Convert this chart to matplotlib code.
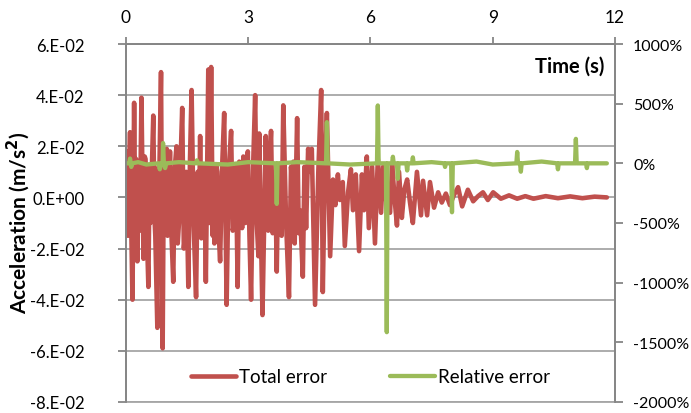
import numpy as np
import matplotlib.pyplot as plt
from matplotlib.ticker import FixedLocator, FuncFormatter

plt.rcParams['font.family'] = ['Lato', 'DejaVu Sans']

RED = '#C0504D'
GREEN = '#9BBB59'
GRID = '#A6A6A6'
AXC = '#868686'

# total error (m/s^2), peaks and troughs
tot_t = [0.00, 0.03, 0.05, 0.08, 0.10, 0.13, 0.16, 0.20, 0.23, 0.25, 0.28,
         0.30, 0.34, 0.38, 0.43, 0.46, 0.48, 0.52, 0.55, 0.58, 0.60, 0.64,
         0.67, 0.70, 0.72, 0.77, 0.80, 0.82, 0.86, 0.90, 0.93, 0.95, 1.00,
         1.02, 1.04, 1.08, 1.12, 1.16, 1.20, 1.24, 1.27, 1.30, 1.34, 1.38,
         1.42, 1.45, 1.48, 1.53, 1.57, 1.61, 1.66, 1.72, 1.76, 1.79, 1.82,
         1.85, 1.88, 1.92, 1.96, 2.02, 2.05, 2.09, 2.13, 2.15, 2.17, 2.21,
         2.24, 2.27, 2.31, 2.36, 2.41, 2.47, 2.52, 2.58, 2.62, 2.66, 2.70,
         2.74, 2.78, 2.81, 2.85, 2.88, 2.93, 2.96, 2.99, 3.03, 3.07, 3.12,
         3.17, 3.21, 3.25, 3.27, 3.31, 3.35, 3.43, 3.49, 3.52, 3.56, 3.60,
         3.63, 3.66, 3.70, 3.74, 3.78, 3.82, 3.86, 3.93, 4.00, 4.05, 4.08,
         4.11, 4.14, 4.20, 4.24, 4.27, 4.34, 4.38, 4.42, 4.47, 4.52, 4.56,
         4.64, 4.72, 4.79, 4.83, 4.88, 4.93, 5.01, 5.08, 5.14, 5.20, 5.25,
         5.32, 5.37, 5.45, 5.52, 5.57, 5.64, 5.72, 5.79, 5.84, 5.91, 5.96,
         6.04, 6.11, 6.18, 6.26, 6.31, 6.39, 6.48, 6.53, 6.60, 6.65, 6.70,
         6.77, 6.83, 6.90, 6.97, 7.04, 7.14, 7.24, 7.29, 7.39, 7.46, 7.56,
         7.66, 7.75, 7.85, 7.95, 8.05, 8.15, 8.25, 8.39, 8.52, 8.64, 8.76,
         8.88, 9.01, 9.20, 9.40, 9.60, 9.80, 10.00, 10.30, 10.60, 10.90,
         11.20, 11.50, 11.80]
tot_v = [-1.0, 1.8, -1.5, 1.2, 2.55, -1.2, -4.0, 3.7, -1.5, 1.5, -2.5,
         1.0, -1.3, 3.9, -2.4, 1.6, 1.5, -1.8, -3.5, 1.2, -1.0, 1.4,
         3.2, -0.8, -1.5, -5.1, 1.2, 1.0, 4.9, -5.9, 1.5, 0.5, 1.9,
         -1.5, -1.0, 1.8, -1.6, -3.3, 1.2, 2.0, -1.8, -1.0, 1.4, 3.5,
         -2.0, -1.5, 1.0, -3.5, 1.4, 4.2, -1.0, -3.9, 1.0, -1.2, 2.4,
         -1.6, -1.0, 1.3, -3.3, 5.0, -1.0, 5.1, -1.5, 1.2, -1.8, 1.3,
         1.0, -1.2, -2.5, 1.2, 3.3, -4.2, 1.0, 2.6, -1.3, -1.0, 1.2,
         -3.5, 1.4, 0.5, -1.2, 1.6, -1.0, 0.8, 1.8, -1.5, -4.0, 1.2,
         4.0, -1.0, -2.3, 2.5, -1.2, -4.6, 2.4, -1.3, 1.2, 2.6, -1.4,
         -0.5, 1.0, -2.9, 1.2, 1.0, -1.5, 3.6, -1.0, -3.9, 1.2, 0.5,
         1.4, -1.8, 3.1, -1.4, -0.5, -3.1, 1.2, -1.2, 1.9, 1.0, 1.9,
         -4.2, 1.0, 4.2, -3.7, 1.0, 3.3, -2.3, 0.7, -0.3, 0.9, -0.1,
         0.6, -1.9, 0.2, 1.1, -0.5, 0.9, -2.1, 0.9, -0.5, 1.6, -1.2,
         1.2, -1.8, 1.5, -0.6, 1.2, -0.2, -0.6, 1.3, -0.2, -1.1, 1.0,
         -0.8, 0.3, 0.7, -0.2, -1.0, 1.0, -0.7, 0.65, -0.7, 0.6, -0.4,
         0.2, -0.2, 0.15, -0.3, 0.1, 0.4, -0.35, 0.3, -0.15, 0.05, 0.2,
         -0.1, 0.2, -0.05, 0.08, -0.05, 0.05, -0.05, 0.05, -0.03, 0.04,
         -0.03, 0.03, 0.0]
tot_v = [v * 0.01 for v in tot_v]

# relative error (%)
rel_t = [0.00, 0.08, 0.10, 0.13, 0.15, 0.30, 0.50, 0.80, 0.83, 0.86, 0.90,
         0.91, 0.93, 0.96, 0.99, 1.30, 1.72, 1.74, 1.77, 2.50, 3.00, 3.68,
         3.70, 3.72, 4.20, 4.91, 4.93, 4.95, 5.50, 6.16, 6.18, 6.20, 6.38,
         6.40, 6.42, 6.53, 6.55, 6.57, 6.65, 6.67, 6.69, 6.88, 6.90, 6.92,
         7.02, 7.04, 7.06, 7.50, 7.81, 7.83, 7.85, 7.98, 8.00, 8.02, 8.60,
         9.00, 9.58, 9.60, 9.62, 9.67, 9.69, 9.71, 10.20, 10.58, 10.60,
         10.62, 11.02, 11.04, 11.06, 11.29, 11.31, 11.33, 11.80]
rel_v = [0, 0, 40, -30, 0, 10, -10, 0, -50, 0, 0,
         170, 0, -40, 0, 10, 0, 25, 0, -10, 10, 0,
         -340, 0, 10, 0, 345, 0, -10, 0, 485, 0, 0,
         -1415, 0, 0, 55, 0, 0, -130, 0, 0, -60, 0,
         0, 50, 0, 10, 0, -30, 0, 0, -410, 0, 15,
         -10, 0, 95, 0, 0, -70, 0, 15, 0, -50,
         0, 0, 205, 0, 0, -40, 0, 0]

left_ticks = [-0.08, -0.06, -0.04, -0.02, 0.0, 0.02, 0.04, 0.06]
left_labels = ['-8.E-02', '-6.E-02', '-4.E-02', '-2.E-02', '0.E+00',
               '2.E-02', '4.E-02', '6.E-02']
right_ticks = [-2000, -1500, -1000, -500, 0, 500, 1000]
x_ticks = [0, 3, 6, 9, 12]

fig = plt.figure(figsize=(6.91, 4.14), dpi=100)
ax = fig.add_axes([0.1823, 0.0266, 0.7077, 0.8647])
ax2 = ax.twinx()

ax.set_xlim(0, 12)
ax.set_ylim(-0.08, 0.06)
ax2.set_ylim(-2000, 1000)

ax.yaxis.grid(True, color=GRID, lw=1.3)
ax.set_axisbelow(True)

l1, = ax.plot(tot_t, tot_v, color=RED, lw=3.3, solid_joinstyle='round',
              solid_capstyle='round', label='Total error')
l2, = ax2.plot(rel_t, rel_v, color=GREEN, lw=3.1, solid_joinstyle='round',
               solid_capstyle='round', label='Relative error')

ax.yaxis.set_major_locator(FixedLocator(left_ticks))
ax.set_yticklabels(left_labels)
ax2.yaxis.set_major_locator(FixedLocator(right_ticks))
ax2.yaxis.set_major_formatter(FuncFormatter(lambda v, p: '%d%%' % v))
ax.xaxis.set_major_locator(FixedLocator(x_ticks))
ax.xaxis.tick_top()

for a in (ax, ax2):
    for s in a.spines.values():
        s.set_color(AXC)
        s.set_linewidth(1.3)
ax.spines['bottom'].set_color(GRID)
ax2.spines['bottom'].set_visible(False)
ax.tick_params(axis='y', colors=AXC, labelcolor='black', labelsize=12,
               length=6, width=1.3, pad=24)
ax.tick_params(axis='x', colors=AXC, labelcolor='black', labelsize=12.5,
               length=5, width=1.3, pad=9)
ax2.tick_params(axis='y', colors=AXC, labelcolor='black', labelsize=11.5,
                length=6, width=1.3, pad=7)

ax.set_ylabel('Acceleration (m/s$^\\mathbf{2}$)', fontsize=15, fontweight='bold')
ax.yaxis.set_label_coords(-0.192, 0.505)
ax.text(0.978, 0.94, 'Time (s)', transform=ax.transAxes, ha='right', va='center',
        fontsize=14.5, fontweight='bold')

ax2.legend([l1, l2], ['Total error', 'Relative error'], loc='lower center',
           bbox_to_anchor=(0.5, 0.0), ncol=2, frameon=False, fontsize=13.5,
           handlelength=2.4, columnspacing=3.4, handletextpad=0.15)

fig.savefig('out.png', dpi=100)
